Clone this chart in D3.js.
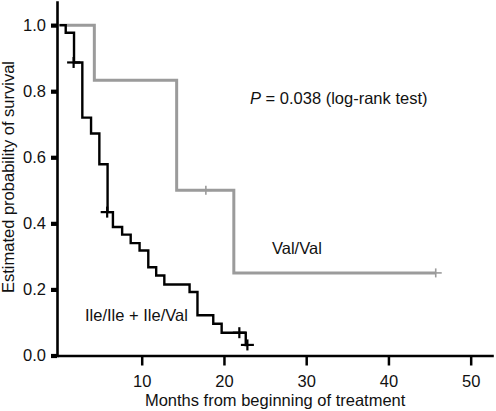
<!DOCTYPE html>
<html>
<head>
<meta charset="utf-8">
<script src="https://cdn.jsdelivr.net/npm/d3@7"></script>
<style>
  html, body { margin: 0; padding: 0; background: #fff; }
  svg { display: block; }
  text { font-family: "Liberation Sans", Arial, Helvetica, sans-serif; font-size: 16.5px; fill: #111; }
</style>
</head>
<body>
<svg id="chart" width="496" height="411"></svg>
<script>
// ---- Data ----
// Ile/Ile + Ile/Val group (black)
const blackTimes = [0, 0.76, 1.77, 2.78, 3.84, 4.85, 5.85, 6.5, 7.62, 8.66, 9.74, 10.8, 11.76, 12.75, 15.82, 16.78, 18.7, 19.72, 22.65, 22.85];
const blackSurv  = [1.0, 0.977, 0.887, 0.720, 0.672, 0.579, 0.434, 0.389, 0.366, 0.340, 0.318, 0.267, 0.242, 0.215, 0.192, 0.122, 0.096, 0.069, 0.032, 0.032];
const blackCensorTimes = [1.72, 5.8, 21.87, 22.85];
const blackCensorSurv  = [0.887, 0.434, 0.069, 0.032];

// Val/Val group (grey)
const greyTimes = [0, 4.24, 14.25, 21.2, 45.75];
const greySurv  = [1.0, 0.833, 0.5, 0.25, 0.25];
const greyCensorTimes = [17.8, 45.75];
const greyCensorSurv  = [0.5, 0.25];

const xTicks = [10, 20, 30, 40, 50];
const yTicks = [0.0, 0.2, 0.4, 0.6, 0.8, 1.0];

const xTitle = "Months from beginning of treatment";
const yTitle = "Estimated probability of survival";
const labelBlack = "Ile/Ile + Ile/Val";
const labelGrey = "Val/Val";

// ---- Scales ----
const svg = d3.select("#chart");
const x = d3.scaleLinear().domain([-0.3, 52.75]).range([57, 493.3]);
const y = d3.scaleLinear().domain([0, 1.07]).range([355.5, 2]);

const GREY = "#9b9b9b";

// ---- Axes ----
const yAxis = svg.append("g").attr("transform", `translate(${x.range()[0]},0)`)
  .call(d3.axisLeft(y).tickValues(yTicks).tickSize(6).tickSizeOuter(0).tickPadding(5).tickFormat(d3.format(".1f")));
yAxis.select(".domain").attr("stroke", "#000").attr("stroke-width", 2.6).attr("stroke-linecap", "square");
yAxis.selectAll(".tick line").attr("stroke", "#000").attr("stroke-width", 4.2);
yAxis.selectAll(".tick text").attr("font-size", null).style("font-size", "16.5px").style("font-family", null);

const xAxis = svg.append("g").attr("transform", `translate(0,${y(0)})`)
  .call(d3.axisBottom(x).tickValues(xTicks).tickSize(10).tickSizeOuter(0).tickFormat(d3.format("d")));
xAxis.select(".domain").attr("stroke", "#000").attr("stroke-width", 2.6);
xAxis.selectAll(".tick line").attr("stroke", "#000").attr("stroke-width", 2.5);
xAxis.selectAll(".tick text").attr("y", 31.5).attr("dy", null).style("font-size", "16.5px");
svg.selectAll("g").attr("font-family", null).attr("font-size", null);

// ---- Survival curves ----
const line = d3.line().x(d => x(d[0])).y(d => y(d[1])).curve(d3.curveStepAfter);

svg.append("path")
  .datum(greyTimes.map((t, i) => [t, greySurv[i]]))
  .attr("d", line).attr("fill", "none").attr("stroke", GREY).attr("stroke-width", 3);

svg.append("path")
  .datum(blackTimes.map((t, i) => [t, blackSurv[i]]))
  .attr("d", line).attr("fill", "none").attr("stroke", "#000").attr("stroke-width", 2.4);

// censor marks
function censors(times, surv, color, w, h, sw) {
  const g = svg.append("g");
  times.forEach((t, i) => {
    const cx = x(t), cy = y(surv[i]);
    g.append("line").attr("x1", cx - w / 2).attr("x2", cx + w / 2).attr("y1", cy).attr("y2", cy)
      .attr("stroke", color).attr("stroke-width", sw);
    g.append("line").attr("x1", cx).attr("x2", cx).attr("y1", cy - h / 2).attr("y2", cy + h / 2)
      .attr("stroke", color).attr("stroke-width", sw);
  });
}
censors(greyCensorTimes, greyCensorSurv, GREY, 12, 9, 1.6);
censors(blackCensorTimes, blackCensorSurv, "#000", 13, 11, 2.2);

// ---- Annotations ----
const p = svg.append("text").attr("x", 250).attr("y", 104);
p.append("tspan").attr("font-style", "italic").text("P");
p.append("tspan").text(" = 0.038 (log-rank test)");

svg.append("text").attr("x", 272).attr("y", 254).text(labelGrey);
svg.append("text").attr("x", 85).attr("y", 320.5).text(labelBlack);

// ---- Axis titles ----
svg.append("text").attr("x", (x.range()[0] + x.range()[1]) / 2).attr("y", 405.5)
  .attr("text-anchor", "middle").text(xTitle);
svg.append("text").attr("transform", "translate(13.5,177) rotate(-90)")
  .attr("text-anchor", "middle").text(yTitle);
</script>
</body>
</html>
